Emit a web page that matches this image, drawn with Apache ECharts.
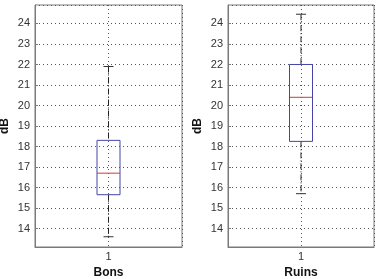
<!DOCTYPE html>
<html>
<head>
<meta charset="utf-8">
<script src="https://cdn.jsdelivr.net/npm/echarts@6/dist/echarts.min.js"></script>
<style>
  html, body { margin: 0; padding: 0; background: #fff; }
</style>
</head>
<body>
<div id="chart" style="width:379px;height:279px;"></div>
<script>
// min, q1, median, q3, max (dB)
var bons = [13.6, 15.65, 16.7, 18.3, 21.9];
var ruins = [15.7, 18.25, 20.4, 22.0, 24.45];
var groupNames = ['Bons', 'Ruins'];
var xTicks = [1];

var font = 'Liberation Sans, Arial, sans-serif';
var frameColor = '#7a7a7a';

function boxRender(params, api) {
  var x = api.value(0);
  var lo = api.coord([x, api.value(1)]);
  var q1 = api.coord([x, api.value(2)]);
  var med = api.coord([x, api.value(3)]);
  var q3 = api.coord([x, api.value(4)]);
  var hi = api.coord([x, api.value(5)]);
  var cx = lo[0];
  var hw = 11.5, cw = 5;
  var dash = { stroke: '#222', lineWidth: 1, lineDash: [6, 2, 1, 2] };
  return {
    type: 'group',
    children: [
      { type: 'line', shape: { x1: cx, y1: hi[1], x2: cx, y2: q3[1] }, style: dash },
      { type: 'line', shape: { x1: cx, y1: q1[1], x2: cx, y2: lo[1] }, style: dash },
      { type: 'line', shape: { x1: cx - cw, y1: hi[1], x2: cx + cw, y2: hi[1] }, style: { stroke: '#333', lineWidth: 1 } },
      { type: 'line', shape: { x1: cx - cw, y1: lo[1], x2: cx + cw, y2: lo[1] }, style: { stroke: '#333', lineWidth: 1 } },
      { type: 'rect', shape: { x: cx - hw, y: q3[1], width: hw * 2, height: q1[1] - q3[1] }, style: { fill: 'none', stroke: '#4444aa', lineWidth: 1 } },
      { type: 'line', shape: { x1: cx - hw, y1: med[1], x2: cx + hw, y2: med[1] }, style: { stroke: '#d03a3a', lineWidth: 1 } }
    ]
  };
}

var grids = [
  { left: 35, top: 5, width: 147, height: 242 },
  { left: 228, top: 5, width: 146, height: 242 }
];
grids.forEach(function (g) {
  g.show = true; g.borderColor = frameColor; g.borderWidth = 1;
  g.backgroundColor = 'transparent'; g.containLabel = false; g.outerBoundsMode = 'none';
});

var xAxes = [], yAxes = [], series = [];
[bons, ruins].forEach(function (d, i) {
  xAxes.push({
    type: 'value', gridIndex: i, min: 0.5, max: 1.5, interval: 0.5,
    name: groupNames[i], nameLocation: 'middle', nameGap: 17,
    nameTextStyle: { fontFamily: font, fontWeight: 'bold', fontSize: 12, color: '#111' },
    axisLine: { show: true, lineStyle: { color: frameColor } },
    axisTick: { show: false },
    axisLabel: {
      fontFamily: font, fontSize: 11, color: '#333', margin: 4,
      formatter: function (v) { return xTicks.indexOf(v) >= 0 ? String(v) : ''; }
    },
    splitLine: { show: true, lineStyle: { color: '#555', type: [1, 3], width: 1 } }
  });
  yAxes.push({
    type: 'value', gridIndex: i, min: 13.1, max: 24.9, minInterval: 1, maxInterval: 1,
    name: 'dB', nameLocation: 'middle', nameGap: 24, nameRotate: 90,
    nameTextStyle: { fontFamily: font, fontWeight: 'bold', fontSize: 12, color: '#111' },
    axisLine: { show: true, lineStyle: { color: frameColor } },
    axisTick: { show: true, inside: true, length: 3, lineStyle: { color: frameColor } },
    axisLabel: { fontFamily: font, fontSize: 11, color: '#333', margin: 5, showMinLabel: false, showMaxLabel: false },
    splitLine: { show: true, lineStyle: { color: '#555', type: [1, 3], width: 1 } }
  });
  series.push({
    type: 'custom', xAxisIndex: i, yAxisIndex: i,
    renderItem: boxRender,
    data: [[1].concat(d)],
    silent: true
  });
});

var chart = echarts.init(document.getElementById('chart'), null, { renderer: 'canvas' });
chart.setOption({
  animation: false,
  grid: grids,
  xAxis: xAxes,
  yAxis: yAxes,
  series: series
});
</script>
</body>
</html>
